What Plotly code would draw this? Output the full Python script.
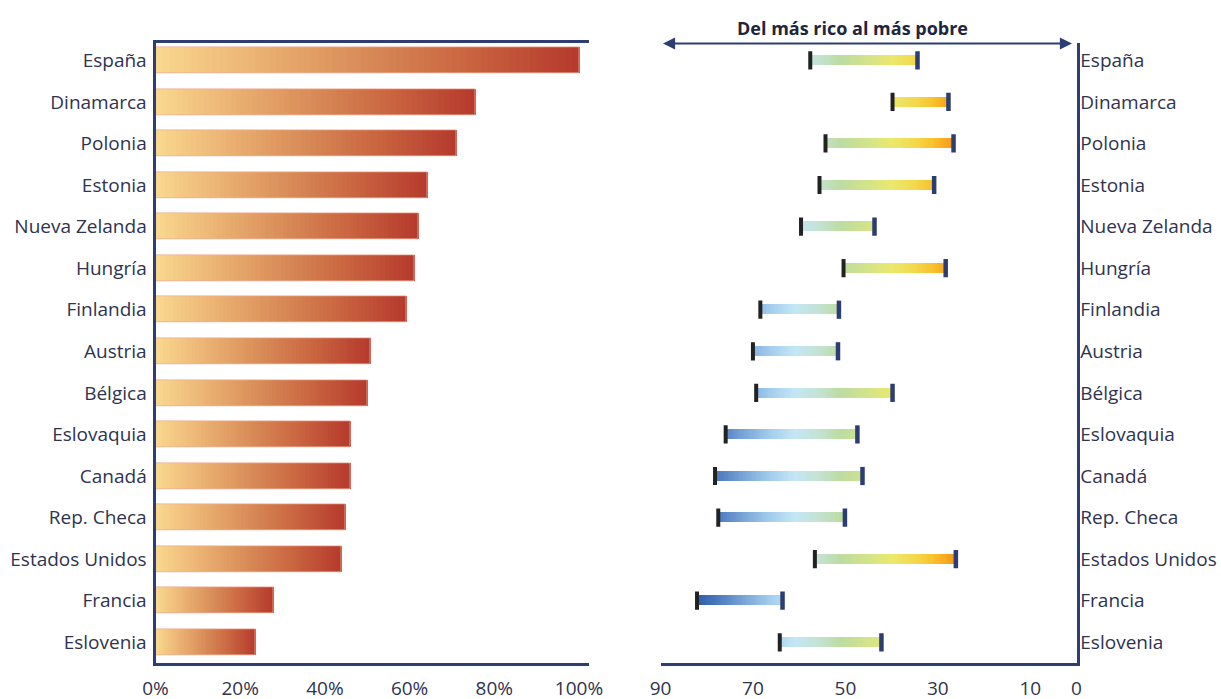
import numpy as np
import plotly.graph_objects as go

# ---------------- data ----------------
countries = ["España", "Dinamarca", "Polonia", "Estonia", "Nueva Zelanda", "Hungría",
             "Finlandia", "Austria", "Bélgica", "Eslovaquia", "Canadá", "Rep. Checa",
             "Estados Unidos", "Francia", "Eslovenia"]
share_pct = [100, 75.5, 71.0, 64.3, 62.0, 61.1, 59.2, 50.7, 50.0, 46.0, 46.0, 44.8, 44.0, 27.8, 23.7]
rich_end = [57.6, 39.8, 54.3, 55.6, 59.6, 50.4, 68.4, 70.0, 69.3, 75.9, 78.2, 77.5, 56.6, 82.1, 64.2]
poor_end = [34.4, 27.7, 26.6, 30.8, 43.7, 28.3, 51.4, 51.6, 39.8, 47.4, 46.3, 50.1, 26.1, 63.6, 42.2]
left_ticks = [0, 20, 40, 60, 80, 100]
left_ticktext = ["0%", "20%", "40%", "60%", "80%", "100%"]
right_ticks = [90, 70, 50, 30, 10, 0]
title_text = "Del más rico al más pobre"

# ---------------- styles ----------------
W, H = 1221, 699
FONT = "Open Sans"
TXT = "#2f3350"
NAVY = "#2d3f72"
N_SEG = 60

left_stops = [(0.0, (249, 216, 143)), (0.25, (234, 176, 114)), (0.5, (216, 138, 86)),
              (0.75, (200, 98, 63)), (1.0, (181, 57, 44))]
right_scale = [(25, "#f58c18"), (27, "#f79a1a"), (31, "#f7c02a"), (35, "#f3d84c"),
               (40, "#ebe86c"), (45, "#d4e488"), (51, "#bddca0"), (56, "#c4e2d4"),
               (61, "#c4e6f6"), (66, "#a6cfee"), (72, "#7aa6d8"), (78, "#4a78bc"),
               (83, "#2a58a4")]
cmin, cmax = right_scale[0][0], right_scale[-1][0]
colorscale = [[(v - cmin) / (cmax - cmin), c] for v, c in right_scale]


def interp_color(t):
    for (t0, c0), (t1, c1) in zip(left_stops[:-1], left_stops[1:]):
        if t <= t1:
            f = (t - t0) / (t1 - t0)
            return "rgb(%d,%d,%d)" % tuple(round(a + (b - a) * f) for a, b in zip(c0, c1))
    return "rgb(%d,%d,%d)" % left_stops[-1][1]


def px_to_paper_x(p):
    return p / W


def px_to_paper_y(p):
    return 1 - p / H


fig = go.Figure()

# ---------------- left: gradient bars ----------------
vals = np.array(share_pct, dtype=float)
for k in range(N_SEG):
    step = vals / N_SEG
    base = step * k
    length = np.minimum(step * 1.6, vals - base)
    fig.add_trace(go.Bar(
        y=countries, x=length, base=base, orientation="h",
        marker=dict(color=interp_color((k + 0.5) / N_SEG), line=dict(width=0)),
        width=0.625, xaxis="x", yaxis="y", showlegend=False, hoverinfo="skip"))
fig.add_trace(go.Bar(
    y=countries, x=vals, orientation="h",
    marker=dict(color="rgba(0,0,0,0)", line=dict(width=1, color="rgba(240,175,150,0.8)")),
    width=0.625, xaxis="x", yaxis="y", showlegend=False, hoverinfo="skip"))

# ---------------- right: gradient range bars ----------------
seg_y, seg_base, seg_len, seg_col = [], [], [], []
for c, hi, lo in zip(countries, rich_end, poor_end):
    step = (hi - lo) / N_SEG
    for k in range(N_SEG):
        b = lo + k * step
        seg_y.append(c)
        seg_base.append(b)
        seg_len.append(min(step * 1.6, hi - b))
        seg_col.append(b + step / 2)
fig.add_trace(go.Bar(
    y=seg_y, x=seg_len, base=seg_base, orientation="h",
    marker=dict(color=seg_col, colorscale=colorscale, cmin=cmin, cmax=cmax, line=dict(width=0)),
    width=0.24, xaxis="x2", yaxis="y2", showlegend=False, hoverinfo="skip"))
fig.add_trace(go.Scatter(
    y=countries, x=rich_end, mode="markers", xaxis="x2", yaxis="y2",
    marker=dict(symbol="line-ns", size=13, line=dict(width=4, color="#222222")),
    showlegend=False, hoverinfo="skip"))
fig.add_trace(go.Scatter(
    y=countries, x=poor_end, mode="markers", xaxis="x2", yaxis="y2",
    marker=dict(symbol="line-ns", size=13, line=dict(width=4.5, color="#2b3d72")),
    showlegend=False, hoverinfo="skip"))

# ---------------- layout ----------------
row_px = 41.57
top_px, bot_px = 43.3, 662.7
first_center = 60.3
y_top = -(first_center - top_px) / row_px
y_bot = y_top + (bot_px - top_px) / row_px
y_dom = [px_to_paper_y(bot_px), px_to_paper_y(top_px)]
tickfont = dict(family=FONT, size=19, color=TXT)

L0, L1 = 155.5, 589.3
R0, R1 = 660.5, 1076.5
px_per_pct = (579.0 - L0) / 100.0
px_per_unit = (R1 - R0) / 90.0

fig.update_layout(
    width=W, height=H, margin=dict(l=0, r=0, t=0, b=0, autoexpand=False),
    paper_bgcolor="white", plot_bgcolor="white", barmode="overlay", bargap=0,
    font=dict(family=FONT, color=TXT),
    xaxis=dict(domain=[px_to_paper_x(L0), px_to_paper_x(L1)],
               range=[0, (L1 - L0) / px_per_pct], anchor="y", automargin=False,
               showgrid=False, zeroline=False, showline=True, linewidth=3, linecolor=NAVY,
               mirror=True, tickvals=left_ticks, ticktext=left_ticktext, ticks="",
               ticklabelstandoff=6, tickfont=tickfont, fixedrange=True),
    yaxis=dict(domain=y_dom, range=[y_bot, y_top], type="category", automargin=False,
               categoryorder="array", categoryarray=countries, anchor="x",
               showgrid=False, zeroline=False, showline=True, linewidth=3, linecolor=NAVY,
               ticks="", ticklabelstandoff=2, tickfont=tickfont),
    xaxis2=dict(domain=[px_to_paper_x(R0), px_to_paper_x(R1)],
                range=[90, 0], anchor="y2", automargin=False,
                showgrid=False, zeroline=False, showline=True, linewidth=3, linecolor=NAVY,
                tickvals=right_ticks, ticks="", ticklabelstandoff=6, tickfont=tickfont),
    yaxis2=dict(domain=y_dom, range=[y_bot, y_top], type="category", automargin=False,
                categoryorder="array", categoryarray=countries, anchor="x2", side="right",
                showgrid=False, zeroline=False, showline=True, linewidth=3, linecolor=NAVY,
                ticks="", ticklabelstandoff=-3, tickfont=tickfont),
)

arrow_y = px_to_paper_y(43.5)
x_right_tip = 90 - (1072 - R0) / px_per_unit
x_left_tip = 90 - (661.5 - R0) / px_per_unit
fig.add_annotation(x=x_right_tip, y=arrow_y, xref="x2", yref="paper",
                   ax=x_left_tip, ay=0, axref="x2", ayref="pixel",
                   text="", showarrow=True, arrowhead=2, startarrowhead=2,
                   arrowside="end+start", arrowsize=1.1, startarrowsize=1.1,
                   arrowwidth=2.2, arrowcolor=NAVY)
fig.add_annotation(x=px_to_paper_x(852), y=px_to_paper_y(28), xref="paper", yref="paper",
                   text="<b>" + title_text + "</b>", showarrow=False,
                   font=dict(family=FONT, size=18, color="#1e2540"),
                   xanchor="center", yanchor="middle")

fig.write_html("out.html")
